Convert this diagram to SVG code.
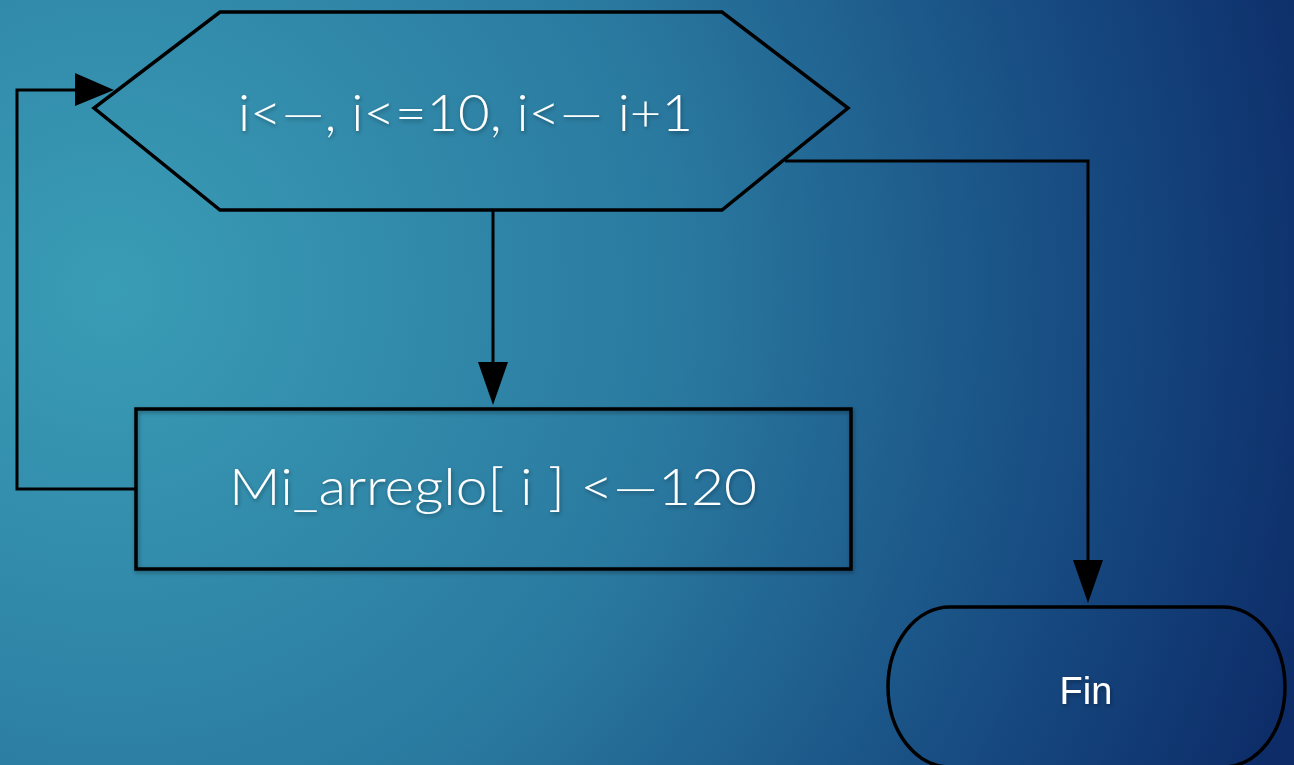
<svg xmlns="http://www.w3.org/2000/svg" width="1294" height="765" viewBox="0 0 1294 765">
<defs>
<radialGradient id="bg" cx="110" cy="290" r="1250" gradientUnits="userSpaceOnUse">
<stop offset="0" stop-color="#3a9db6"/>
<stop offset="0.45" stop-color="#2a7aa0"/>
<stop offset="0.8" stop-color="#16487f"/>
<stop offset="1" stop-color="#0d2c68"/>
</radialGradient>
<filter id="sh" x="-10%" y="-10%" width="120%" height="130%">
<feDropShadow dx="1" dy="2" stdDeviation="2" flood-color="#000" flood-opacity="0.35"/>
</filter>
<style>
.shape{fill:none;stroke:#000;stroke-width:3.5;}
.conn{fill:none;stroke:#000;stroke-width:3;}
.head{fill:#000;}
.lbl{fill:#fff;font-family:"Lato","Open Sans","Liberation Sans",sans-serif;font-weight:300;}
.fin{fill:#fff;font-family:"Liberation Sans",Arial,sans-serif;font-size:38px;}
</style>
</defs>
<rect width="1294" height="765" fill="url(#bg)"/>
<g id="connectors">
<path class="conn" d="M493,210 V372"/>
<path class="head" d="M478,362 L508,362 L493,405 z"/>
<path class="conn" d="M136,489 H17 V90 H85"/>
<path class="head" d="M75,73 L75,106 L114,90 z"/>
<path class="conn" d="M785,161 H1088 V570"/>
<path class="head" d="M1073,560 L1103,560 L1088,603 z"/>
</g>
<g id="loop">
<polygon class="shape" points="220,12 722,12 848,108 722,210 220,210 94,108"/>
<text class="lbl" x="238" y="131" font-size="52" textLength="455" lengthAdjust="spacingAndGlyphs" filter="url(#sh)">i&lt;—, i&lt;=10, i&lt;— i+1</text>
</g>
<g id="assign">
<rect class="shape" x="136" y="409" width="715" height="160" filter="url(#sh)"/>
<text class="lbl" x="229" y="505" font-size="51" textLength="528" lengthAdjust="spacingAndGlyphs" filter="url(#sh)">Mi_arreglo[ i ] &lt;—120</text>
</g>
<g id="fin">
<rect class="shape" x="888" y="607" width="397" height="160" rx="62" ry="80"/>
<text class="fin" x="1086" y="704" text-anchor="middle" filter="url(#sh)">Fin</text>
</g>
</svg>
